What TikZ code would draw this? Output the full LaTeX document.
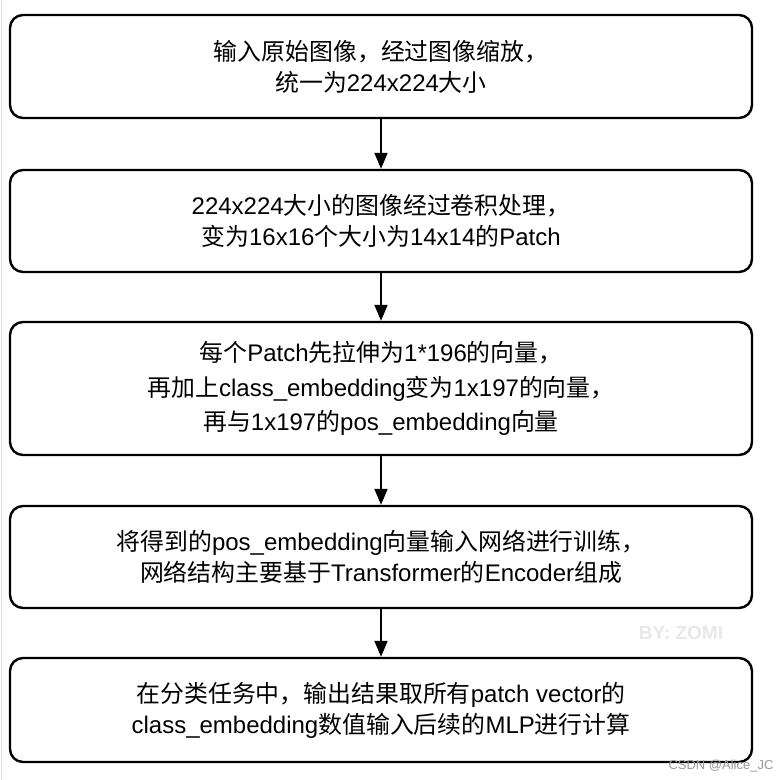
\documentclass[tikz,border=0pt]{standalone}
\usepackage{fontspec}
\setmainfont{Liberation Sans}
\newfontfamily\cjk[Scale=0.995]{Noto Sans CJK SC}
\newcommand\zh[1]{{\cjk #1}}
\usetikzlibrary{arrows.meta}
\definecolor{wmgray}{HTML}{E8E8E8}
\definecolor{csdngray}{HTML}{9A9A9A}
\tikzset{
  flowbox/.style={draw=black, line width=2.4pt, rounded corners=13pt, fill=white,
    minimum width=742pt, align=center, font=\fontsize{24}{31}\selectfont, inner sep=0pt},
  flowarrow/.style={line width=2pt, -{Triangle[length=16pt,width=13pt]}},
}
\begin{document}
\begin{tikzpicture}[x=1pt,y=-1pt]
\useasboundingbox (0,0) rectangle (780,780);
\fill[white] (0,0) rectangle (780,780);
\draw[line width=1pt, black!12] (1.5,0) -- (1.5,780);
\node[flowbox, minimum height=103pt] (b1) at (381,66.5)
  {\zh{输入原始图像，经过图像缩放，}\\\zh{统一为}224x224\zh{大小}};
\node[flowbox, minimum height=102pt] (b2) at (381,221)
  {224x224\zh{大小的图像经过卷积处理，}\\ \zh{变为}16x16\zh{个大小为}14x14\zh{的}Patch};
\node[flowbox, minimum height=133pt, font=\fontsize{24}{34.5}\selectfont] (b3) at (381,388.5)
  {\zh{每个}Patch\zh{先拉伸为}1*196\zh{的向量，}\\\zh{再加上}class\_embedding\zh{变为}1x197\zh{的向量，}\\\zh{再与}1x197\zh{的}pos\_embedding\zh{向量}};
\node[flowbox, minimum height=102pt] (b4) at (381,557)
  {\zh{将得到的}pos\_embedding\zh{向量输入网络进行训练，}\\\zh{网络结构主要基于}Transformer\zh{的}Encoder\zh{组成}};
\node[flowbox, minimum height=104pt] (b5) at (381,710)
  {\zh{在分类任务中，输出结果取所有}patch vector\zh{的}\\class\_embedding\zh{数值输入后续的}MLP\zh{进行计算}};
\draw[flowarrow] (b1.south) -- (b2.north);
\draw[flowarrow] (b2.south) -- (b3.north);
\draw[flowarrow] (b3.south) -- (b4.north);
\draw[flowarrow] (b4.south) -- (b5.north);
\node[text=wmgray, font=\fontsize{19}{19}\selectfont\bfseries] (wm) at (681,633) {BY:\ ZOMI};
\node[text=csdngray, font=\fontsize{13}{13}\selectfont, inner sep=0pt] (csdn) at (721,766) {CSDN @Alice\_JC};
\end{tikzpicture}
\end{document}
